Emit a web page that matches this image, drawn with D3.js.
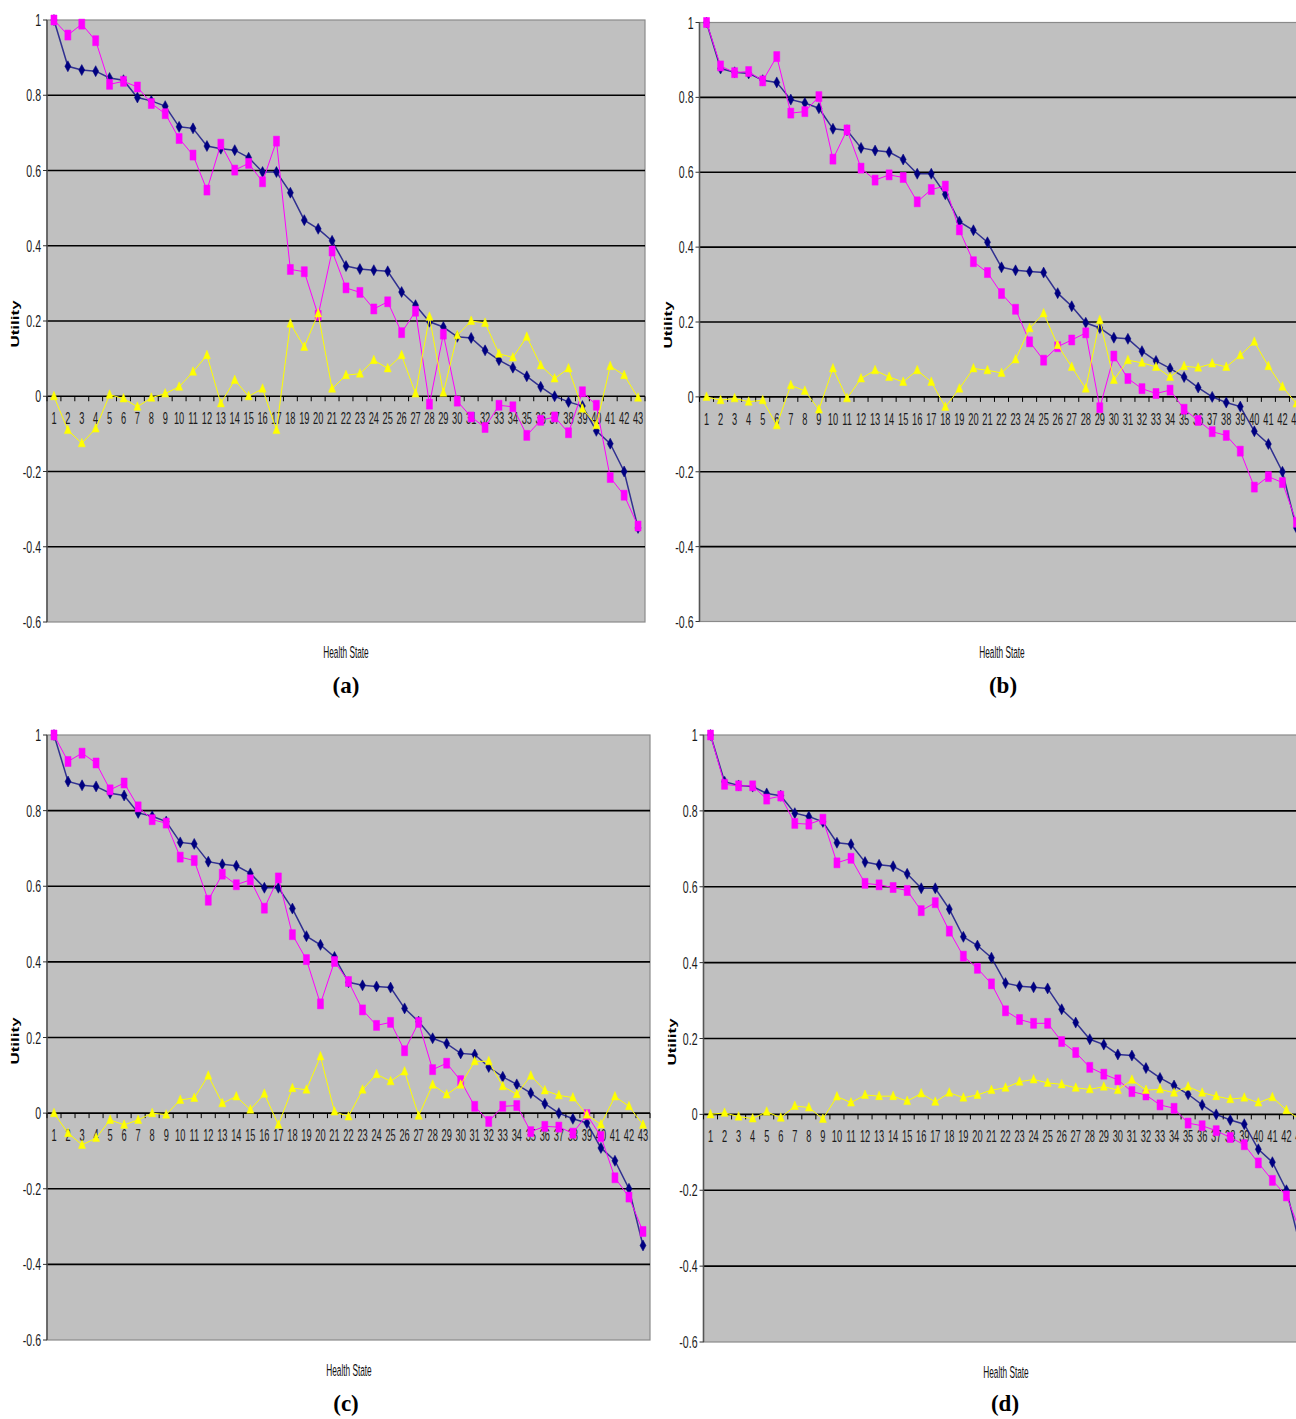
<!DOCTYPE html>
<html><head><meta charset="utf-8">
<script src="https://cdn.jsdelivr.net/npm/d3@7"></script>
<style>body{margin:0;background:#fff;} svg{display:block;}</style>
</head><body><svg id="chart" width="1296" height="1419"></svg>
<script>
const categories = ["1","2","3","4","5","6","7","8","9","10","11","12","13","14","15","16","17","18","19","20","21","22","23","24","25","26","27","28","29","30","31","32","33","34","35","36","37","38","39","40","41","42","43"];
const yTicks = [1, 0.8, 0.6, 0.4, 0.2, 0, -0.2, -0.4, -0.6];
const yTickLabels = ["1","0.8","0.6","0.4","0.2","0","-0.2","-0.4","-0.6"];
const xTitle = "Health State";
const yTitle = "Utility";
const panelLabels = ["(a)","(b)","(c)","(d)"];

// navy diamonds (same in every panel)
const observed = [1.0,0.877,0.867,0.864,0.846,0.840,0.794,0.785,0.771,0.716,0.712,0.665,0.658,0.654,0.634,0.596,0.596,0.541,0.468,0.445,0.413,0.346,0.338,0.335,0.332,0.277,0.242,0.198,0.184,0.158,0.155,0.122,0.096,0.076,0.053,0.025,0.0,-0.015,-0.026,-0.092,-0.126,-0.200,-0.350];

// magenta squares
const predictedA = [1.0,0.960,0.989,0.945,0.829,0.837,0.822,0.778,0.751,0.685,0.641,0.548,0.670,0.601,0.619,0.570,0.678,0.337,0.331,0.215,0.386,0.288,0.276,0.232,0.251,0.169,0.226,-0.021,0.165,-0.013,-0.055,-0.083,-0.024,-0.028,-0.104,-0.064,-0.055,-0.097,0.012,-0.024,-0.216,-0.263,-0.345];
const predictedB = [1.0,0.884,0.866,0.869,0.844,0.909,0.758,0.762,0.802,0.635,0.713,0.611,0.579,0.593,0.586,0.521,0.554,0.563,0.446,0.361,0.332,0.276,0.234,0.147,0.098,0.134,0.152,0.171,-0.029,0.109,0.049,0.022,0.009,0.018,-0.033,-0.063,-0.093,-0.103,-0.145,-0.241,-0.213,-0.229,-0.335];
const predictedC = [1.0,0.930,0.952,0.926,0.855,0.873,0.810,0.776,0.767,0.677,0.668,0.563,0.632,0.604,0.617,0.542,0.622,0.472,0.406,0.289,0.401,0.348,0.273,0.232,0.240,0.165,0.240,0.115,0.132,0.086,0.018,-0.022,0.018,0.020,-0.049,-0.035,-0.037,-0.053,-0.004,-0.062,-0.171,-0.222,-0.313];
const predictedD = [1.0,0.870,0.866,0.866,0.831,0.839,0.767,0.765,0.778,0.663,0.675,0.609,0.605,0.598,0.590,0.537,0.558,0.483,0.417,0.385,0.344,0.273,0.250,0.240,0.240,0.192,0.163,0.124,0.106,0.091,0.060,0.051,0.025,0.016,-0.023,-0.030,-0.043,-0.061,-0.080,-0.128,-0.174,-0.215,-0.310];

// yellow triangles
const differenceA = [0,-0.090,-0.125,-0.086,0.004,-0.006,-0.028,-0.004,0.007,0.025,0.065,0.109,-0.019,0.043,0.0,0.020,-0.090,0.193,0.131,0.220,0.020,0.056,0.060,0.096,0.074,0.109,0.007,0.211,0.009,0.162,0.200,0.195,0.113,0.103,0.158,0.082,0.047,0.074,-0.033,-0.077,0.080,0.056,-0.004];
const differenceB = [0,-0.009,-0.004,-0.013,-0.009,-0.076,0.031,0.016,-0.034,0.076,-0.004,0.049,0.071,0.053,0.040,0.071,0.040,-0.027,0.022,0.076,0.071,0.064,0.100,0.183,0.223,0.138,0.080,0.022,0.205,0.045,0.098,0.091,0.080,0.053,0.082,0.078,0.089,0.080,0.111,0.147,0.082,0.027,-0.018];
const differenceC = [0,-0.053,-0.084,-0.066,-0.018,-0.031,-0.018,0.0,-0.004,0.035,0.040,0.099,0.026,0.044,0.009,0.051,-0.031,0.066,0.062,0.150,0.004,-0.009,0.062,0.103,0.084,0.110,-0.007,0.075,0.049,0.075,0.137,0.137,0.071,0.050,0.099,0.060,0.047,0.041,-0.004,-0.030,0.044,0.018,-0.031];
const differenceD = [0,0.004,-0.006,-0.011,0.007,-0.009,0.022,0.018,-0.012,0.047,0.031,0.051,0.048,0.048,0.035,0.055,0.033,0.057,0.044,0.051,0.064,0.070,0.086,0.092,0.083,0.079,0.070,0.066,0.073,0.064,0.091,0.064,0.066,0.057,0.073,0.057,0.048,0.040,0.044,0.031,0.045,0.011,-0.015];

// layout (pixels) per panel
const layout = [
  {x0:47,    x1:645,    yTop:20,   yBot:622,  utilX:15.5, utilY:324,  titleX:346,  titleY:658,  labX:346,  labY:693},
  {x0:699.5, x1:1303.5, yTop:22.5, yBot:621.5,utilX:668,  utilY:325,  titleX:1002, titleY:658,  labX:1003, labY:693},
  {x0:47,    x1:650,    yTop:735,  yBot:1340, utilX:15.5, utilY:1041, titleX:349,  titleY:1376, labX:346,  labY:1411},
  {x0:703.5, x1:1307.5, yTop:735,  yBot:1342, utilX:672,  utilY:1042, titleX:1006, titleY:1378, labX:1005, labY:1411}
];
const predictedSets = [predictedA, predictedB, predictedC, predictedD];
const differenceSets = [differenceA, differenceB, differenceC, differenceD];

const svg = d3.select("#chart");
const FONT = "'Liberation Sans', Arial, sans-serif";

layout.forEach((L, p) => {
  const g = svg.append("g");
  const x = d3.scaleBand().domain(categories).range([L.x0, L.x1]).padding(0);
  const y = d3.scaleLinear().domain([-0.6, 1]).range([L.yBot, L.yTop]);
  const cx = c => x(c) + x.bandwidth() / 2;

  g.append("rect").attr("x", L.x0).attr("y", y(1)).attr("width", L.x1 - L.x0).attr("height", y(-0.6) - y(1))
    .attr("fill", "#C0C0C0").attr("stroke", "#8a8a8a").attr("stroke-width", 1.2);

  // gridlines
  g.selectAll(".grid").data(yTicks.filter(t => t < 0.99 && t > -0.59)).enter().append("line")
    .attr("x1", L.x0).attr("x2", L.x1).attr("y1", d => y(d)).attr("y2", d => y(d))
    .attr("stroke", "#000").attr("stroke-width", 1.6);

  // value axis
  g.append("line").attr("x1", L.x0).attr("x2", L.x0).attr("y1", y(1)).attr("y2", y(-0.6))
    .attr("stroke", "#555").attr("stroke-width", 1.5);
  g.selectAll(".yt").data(yTicks).enter().append("line")
    .attr("x1", L.x0 - 4).attr("x2", L.x0).attr("y1", d => y(d)).attr("y2", d => y(d))
    .attr("stroke", "#333").attr("stroke-width", 1);
  g.selectAll(".yl").data(yTicks).enter().append("text")
    .attr("transform", d => `translate(${L.x0 - 6},${y(d) + 6}) scale(0.64,1)`)
    .attr("text-anchor", "end").attr("font-family", FONT).attr("font-size", 16.5).attr("fill", "#1a1a1a")
    .text((d, i) => yTickLabels[i]);

  // category axis at 0
  const bounds = categories.map(c => x(c)).concat([L.x1]);
  g.selectAll(".xt").data(bounds).enter().append("line")
    .attr("x1", d => d).attr("x2", d => d).attr("y1", y(0)).attr("y2", y(0) + 5)
    .attr("stroke", "#000").attr("stroke-width", 1);
  g.selectAll(".xl").data(categories).enter().append("text")
    .attr("transform", d => `translate(${cx(d)},${y(0) + 28}) scale(0.56,1)`)
    .attr("text-anchor", "middle").attr("font-family", FONT).attr("font-size", 16.5).attr("fill", "#1a1a1a")
    .text(d => d);

  // series
  const seriesList = [
    {vals: observed, color: "#000080", width: 1.5, marker: "diamond"},
    {vals: predictedSets[p], color: "#FF00FF", width: 1, marker: "square"},
    {vals: differenceSets[p], color: "#FFFF00", width: 1, marker: "triangle"}
  ];
  const markerPath = {
    diamond: "M0,-5.5L3,0L0,5.5L-3,0Z",
    square: "M-3,-5H3V5H-3Z",
    triangle: "M0,-5L3.5,3.5H-3.5Z"
  };
  seriesList.forEach(s => {
    const pts = categories.map((c, i) => [cx(c), y(s.vals[i])]);
    g.append("path").attr("d", d3.line()(pts)).attr("fill", "none")
      .attr("stroke", s.color).attr("stroke-width", s.width).attr("opacity", s.marker === "diamond" ? 0.75 : 1);
    g.selectAll(null).data(pts).enter().append("path")
      .attr("d", markerPath[s.marker]).attr("transform", d => `translate(${d[0]},${d[1]})`)
      .attr("fill", s.color).attr("stroke", s.color).attr("stroke-width", 0.5);
  });

  // titles
  g.append("text").attr("transform", `translate(${L.utilX},${L.utilY}) scale(0.66,1) rotate(-90)`)
    .attr("dy", "0.35em").attr("text-anchor", "middle").attr("font-family", FONT).attr("font-weight", "bold")
    .attr("font-size", 17).attr("fill", "#000").text(yTitle);
  g.append("text").attr("transform", `translate(${L.titleX},${L.titleY}) scale(0.5,1)`)
    .attr("text-anchor", "middle").attr("font-family", FONT).attr("font-size", 16.5).attr("fill", "#111").text(xTitle);
  g.append("text").attr("x", L.labX).attr("y", L.labY).attr("text-anchor", "middle")
    .attr("font-family", "'Liberation Serif', 'Times New Roman', serif").attr("font-weight", "bold")
    .attr("font-size", 23).attr("fill", "#000").text(panelLabels[p]);
});
</script></body></html>
